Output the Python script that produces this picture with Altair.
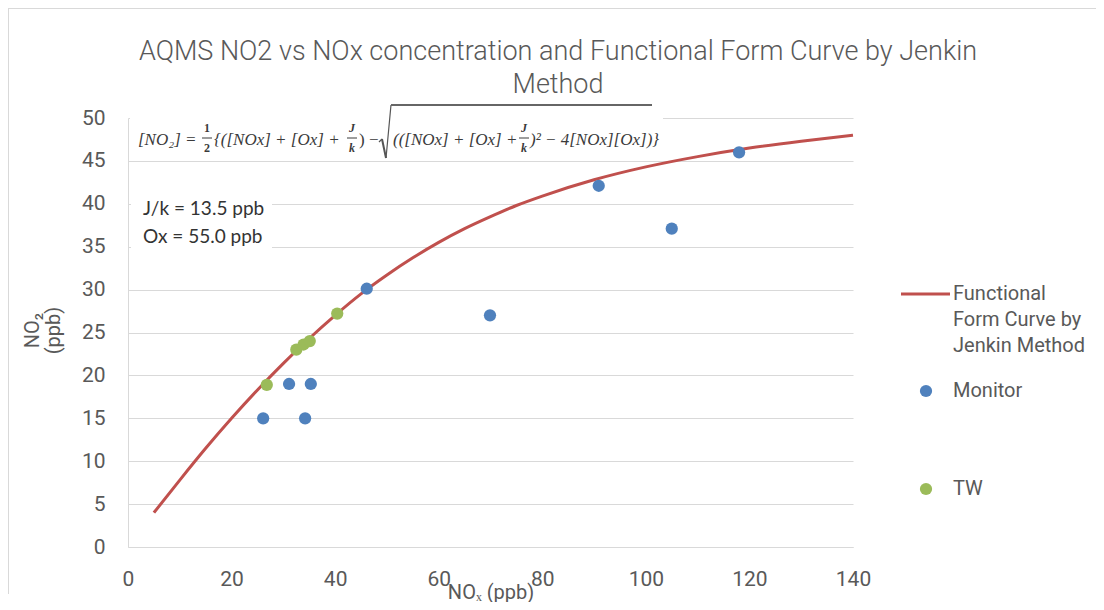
import altair as alt
import pandas as pd

# ---- data ----
monitor_x = [26.1, 31.1, 34.2, 35.3, 46.1, 69.9, 90.9, 105.0, 118.0]
monitor_y = [15.0, 19.0, 15.0, 19.0, 30.1, 27.0, 42.1, 37.1, 46.0]
tw_x = [26.8, 32.5, 33.9, 35.1, 40.4]
tw_y = [18.9, 23.0, 23.6, 24.0, 27.2]
curve_x = [5, 10, 15, 20, 25, 30, 35, 40, 45, 50, 55, 60, 65, 70, 75, 80, 90, 100, 110, 120, 130, 140]
curve_y = [4.0, 7.8, 11.5, 15.0, 18.3, 21.4, 24.3, 27.0, 29.5, 31.7, 33.7, 35.5, 37.1, 38.5, 39.8, 40.9,
           42.8, 44.3, 45.5, 46.5, 47.3, 48.0]
x_ticks = [0, 20, 40, 60, 80, 100, 120, 140]
y_ticks = [0, 5, 10, 15, 20, 25, 30, 35, 40, 45, 50]
title_lines = ["AQMS NO2 vs NOx concentration and Functional Form Curve by Jenkin", "Method"]
legend_curve = ["Functional", "Form Curve by", "Jenkin Method"]

FONT = "Roboto"
GREY = "#595959"
GRID = "#d9d9d9"
RED = "#c0504d"
BLUE = "#4f81bd"
GREEN = "#9bbb59"
EQ_FONT = "Liberation Serif"
EQ_COLOR = "#3a3a3a"

curve_df = pd.DataFrame({"nox": curve_x, "no2": curve_y})
mon_df = pd.DataFrame({"nox": monitor_x, "no2": monitor_y})
tw_df = pd.DataFrame({"nox": tw_x, "no2": tw_y})
one = pd.DataFrame({"k": [0]})

xscale = alt.Scale(domain=[0, 140], nice=False)
yscale = alt.Scale(domain=[0, 50], nice=False)

xaxis = alt.Axis(values=x_ticks, grid=False, ticks=False, tickSize=0, domainColor=GRID,
                 labelFont=FONT, labelFontSize=21, labelColor=GREY, labelPadding=21,
                 labelFlush=False, title="NOₓ (ppb)", titleFont=FONT, titleFontSize=20,
                 titleFontWeight="normal", titleColor=GREY, titleY=45, titleBaseline="middle")
yaxis = alt.Axis(values=y_ticks, grid=True, gridColor=GRID, ticks=False, tickSize=0,
                 domainColor=GRID, labelFont=FONT, labelFontSize=21, labelColor=GREY,
                 labelPadding=23, title=["NO₂", "(ppb)"], titleFont=FONT, titleFontSize=20,
                 titleFontWeight="normal", titleColor=GREY, titleX=-96, titleY=212,
                 titleLineHeight=21, titleAlign="center", titleBaseline="middle")

curve = alt.Chart(curve_df).mark_line(color=RED, strokeWidth=3, interpolate="monotone").encode(
    x=alt.X("nox:Q", scale=xscale, axis=xaxis),
    y=alt.Y("no2:Q", scale=yscale, axis=yaxis),
)
mon = alt.Chart(mon_df).mark_circle(size=150, color=BLUE, opacity=1).encode(
    x=alt.X("nox:Q", scale=xscale), y=alt.Y("no2:Q", scale=yscale))
tw = alt.Chart(tw_df).mark_circle(size=150, color=GREEN, opacity=1).encode(
    x=alt.X("nox:Q", scale=xscale), y=alt.Y("no2:Q", scale=yscale))


def rect(x1, x2, y1, y2, color="white"):
    return alt.Chart(one).mark_rect(color=color).encode(
        x=alt.value(x1), x2=alt.value(x2), y=alt.value(y1), y2=alt.value(y2))


def rule(x1, x2, y1, y2, color, width):
    return alt.Chart(one).mark_rule(color=color, strokeWidth=width).encode(
        x=alt.value(x1), x2=alt.value(x2), y=alt.value(y1), y2=alt.value(y2))


def text(t, x, y, size, font=FONT, color=GREY, style="normal", weight="normal", align="left",
         baseline="middle"):
    return alt.Chart(one).mark_text(text=t, align=align, baseline=baseline, font=font,
                                    fontSize=size, fontStyle=style, fontWeight=weight,
                                    color=color).encode(x=alt.value(x), y=alt.value(y))


# plot origin is at page (128, 118)
ox, oy = 128, 118

layers = [curve, mon, tw]

# chart title (two lines, centred over the whole chart)
layers.append(text(title_lines[0], 558 - ox, 60 - oy, 27, weight=300, align="center",
                   baseline="alphabetic"))
layers.append(text(title_lines[1], 558 - ox, 93 - oy, 27, weight=300, align="center",
                   baseline="alphabetic"))

# equation box
layers.append(rect(2, 535, -8, 40))
eq_y = 140 - oy
ES = 17
eq = [
    text("[NO₂] =", 138 - ox, eq_y, ES, EQ_FONT, EQ_COLOR, "italic"),
    text("1", 207 - ox, 128 - oy, 12, EQ_FONT, EQ_COLOR, align="center", weight="bold"),
    text("2", 207 - ox, 148 - oy, 12, EQ_FONT, EQ_COLOR, align="center", weight="bold"),
    text("{([NOx] + [Ox] +", 214 - ox, eq_y, ES, EQ_FONT, EQ_COLOR, "italic"),
    text("J", 352 - ox, 128 - oy, 12, EQ_FONT, EQ_COLOR, "italic", align="center", weight="bold"),
    text("k", 352 - ox, 148 - oy, 12, EQ_FONT, EQ_COLOR, "italic", align="center", weight="bold"),
    text(") −", 359 - ox, eq_y, ES, EQ_FONT, EQ_COLOR),
    text("(([NOx] + [Ox] +", 393 - ox, eq_y, ES, EQ_FONT, EQ_COLOR, "italic"),
    text("J", 524 - ox, 128 - oy, 12, EQ_FONT, EQ_COLOR, "italic", align="center", weight="bold"),
    text("k", 524 - ox, 148 - oy, 12, EQ_FONT, EQ_COLOR, "italic", align="center", weight="bold"),
    text(")² − 4[NOx][Ox])}", 530 - ox, eq_y, ES, EQ_FONT, EQ_COLOR, "italic"),
    rule(202 - ox, 212 - ox, 138 - oy, 138 - oy, EQ_COLOR, 1),
    rule(347 - ox, 357 - ox, 138 - oy, 138 - oy, EQ_COLOR, 1),
    rule(519 - ox, 529 - ox, 138 - oy, 138 - oy, EQ_COLOR, 1),
    # radical sign
    rule(379 - ox, 382 - ox, 142 - oy, 139 - oy, "#555555", 1.2),
    rule(382 - ox, 386 - ox, 139 - oy, 158 - oy, "#555555", 2),
    rule(386 - ox, 391 - ox, 158 - oy, 105 - oy, "#555555", 1.2),
    rule(391 - ox, 652 - ox, 105 - oy, 105 - oy, "#666666", 2),
]
layers += eq

# J/k box
layers.append(rect(3, 144, 80, 134))
layers.append(text("J/k = 13.5 ppb", 143 - ox, 209 - oy, 19, "Lato", "#333333"))
layers.append(text("Ox = 55.0 ppb", 143 - ox, 237 - oy, 19, "Lato", "#333333"))

# legend
layers.append(rule(901 - ox, 950 - ox, 294 - oy, 294 - oy, RED, 3))
for i, t in enumerate(legend_curve):
    layers.append(text(t, 953 - ox, 294 - oy + 26 * i, 20))
layers.append(alt.Chart(one).mark_circle(size=150, color=BLUE, opacity=1).encode(
    x=alt.value(926 - ox), y=alt.value(391 - oy)))
layers.append(text("Monitor", 953 - ox, 391 - oy, 20))
layers.append(alt.Chart(one).mark_circle(size=150, color=GREEN, opacity=1).encode(
    x=alt.value(926 - ox), y=alt.value(489 - oy)))
layers.append(text("TW", 953 - ox, 489 - oy, 20))

# outer frame of the chart
layers.append(rule(-120, 968, -109.5, -109.5, GRID, 1))
layers.append(rule(-119.5, -119.5, -110, 476, GRID, 1))

chart = alt.layer(*layers).properties(
    width=725, height=429,
    autosize=alt.AutoSizeParams(type="none"),
    padding={"left": 120, "top": 110, "right": 243, "bottom": 55},
    background="white",
).configure_view(stroke=None)

chart.save("out.html", embed_options={"renderer": "svg", "actions": False})
